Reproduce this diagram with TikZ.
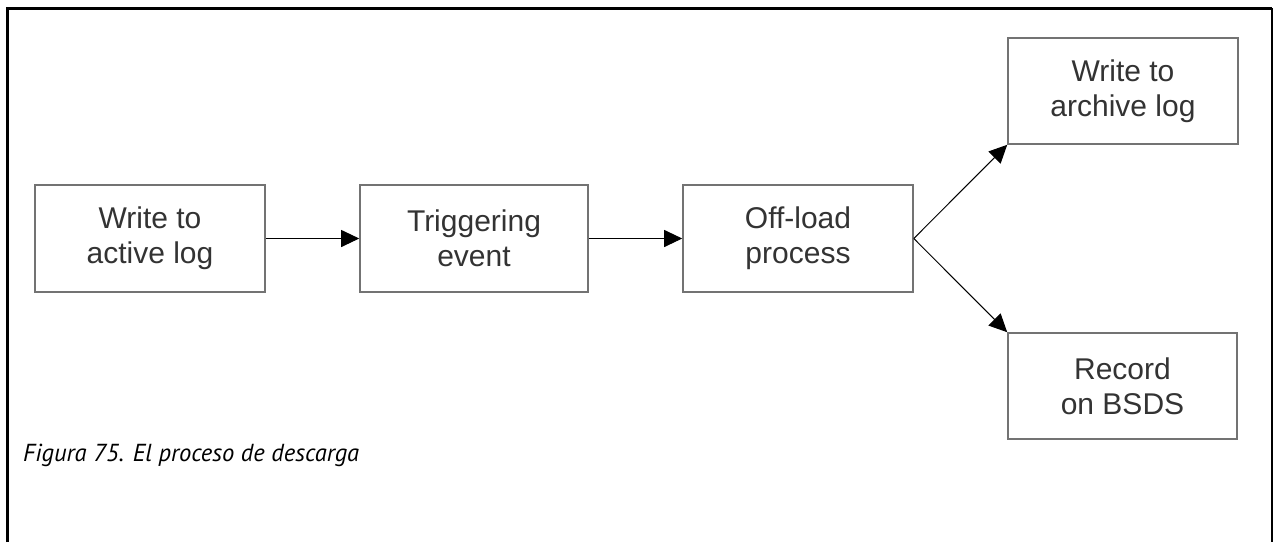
\documentclass[tikz,border=0pt]{standalone}
\usepackage{fontspec}
\setmainfont{Liberation Sans}
\newfontfamily\capfont{PT Sans}
\usetikzlibrary{arrows.meta}
\begin{document}
\begin{tikzpicture}[x=1pt,y=-1pt,
  box/.style={draw=black!55,line width=1.6pt,rectangle,minimum width=230pt,minimum height=107pt,inner sep=0pt,
    align=center,text=black!80,font=\fontsize{30}{35}\selectfont},
  link/.style={draw=black,line width=1pt,-{Triangle[length=18pt,width=17pt]},shorten >=0pt}]
\useasboundingbox (0,0) rectangle (1274,542);
\draw[line width=3pt] (7,542) -- (7,8) -- (1272,8);
\draw[line width=1.2pt] (1272,8) -- (1272,542);
\node[box] (a) at (150,238.5) {Write to\\active log};
\node[box,minimum width=228pt] (b) at (474,238.5) {Triggering\\event};
\node[box] (c) at (798,238.5) {Off-load\\process};
\node[box,minimum height=106pt] (d) at (1123,91) {Write to\\archive log};
\node[box,minimum height=106pt,minimum width=229pt] (e) at (1122.5,386) {Record\\on BSDS};
\draw[link] (a.east) -- (b.west);
\draw[link] (b.east) -- (c.west);
\draw[link] (c.east) -- (d.south west);
\draw[link] (c.east) -- (e.north west);
\node[anchor=base west,inner sep=0pt,font=\capfont\itshape\fontsize{24.6}{29}\selectfont] (cap) at (23,461) {Figura 75. El proceso de descarga};
\end{tikzpicture}
\end{document}
